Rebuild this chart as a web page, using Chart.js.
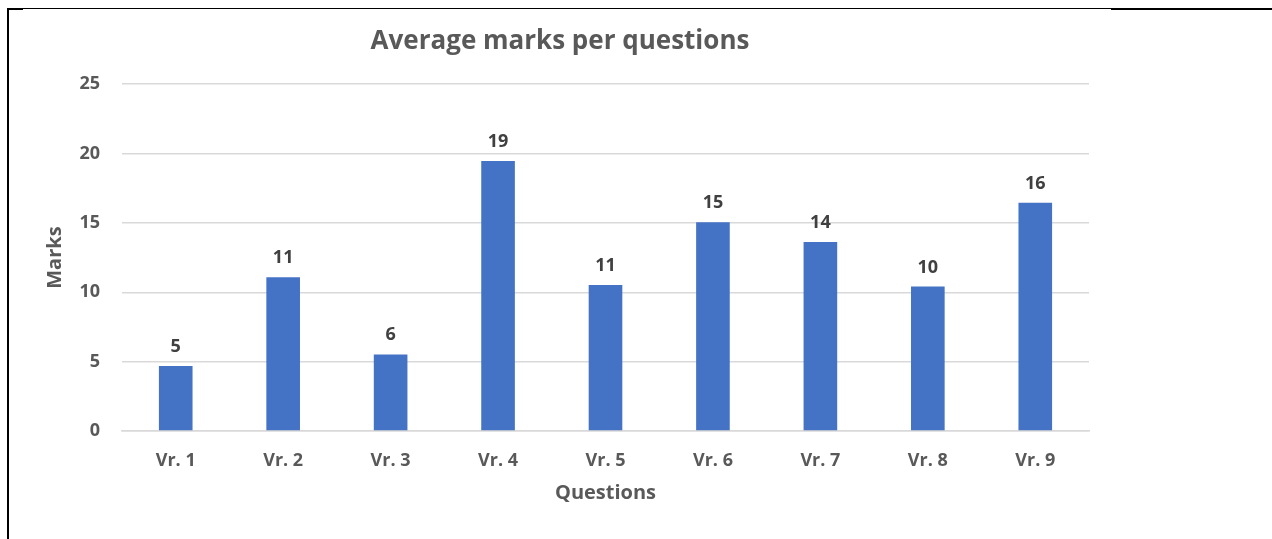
<!DOCTYPE html>
<html>
<head>
<meta charset="utf-8">
<script src="https://cdn.jsdelivr.net/npm/chart.js@4/dist/chart.umd.min.js"></script>
<style>
  body { margin: 0; background: #fff; width: 1272px; height: 539px; overflow: hidden; position: relative; }
  #frame { position: absolute; left: 7px; top: 8px; width: 1104px; height: 540px; border-left: 2px solid #000; border-top: 1px solid #000; }
  #corner { position: absolute; left: 7px; top: 8px; width: 16px; height: 2px; background: #000; }
  #outside { position: absolute; left: 1111px; top: 8px; width: 161px; height: 2px; background: #000; }
  #wrap { position: absolute; left: 9px; top: 10px; width: 1102px; height: 529px; }
</style>
</head>
<body>
<div id="frame"></div>
<div id="corner"></div>
<div id="outside"></div>
<div id="wrap"><canvas id="grafico"></canvas></div>
<script>
// dados do grafico
const questoes = ["Vr. 1", "Vr. 2", "Vr. 3", "Vr. 4", "Vr. 5", "Vr. 6", "Vr. 7", "Vr. 8", "Vr. 9"];
const mediaNotas = [4.69, 11.08, 5.52, 19.47, 10.53, 15.05, 13.63, 10.41, 16.46];
const ticksY = [0, 5, 10, 15, 20, 25];

const fonte = "'Open Sans', Lato, sans-serif";
const cinza = "#595959";

// rotulos em cima das barras (valor arredondado)
const rotulosBarras = {
  id: "rotulosBarras",
  afterDatasetsDraw(chart) {
    const ctx = chart.ctx;
    const meta = chart.getDatasetMeta(0);
    ctx.save();
    ctx.font = "bold 18px " + fonte;
    ctx.fillStyle = "#404040";
    ctx.textAlign = "center";
    ctx.textBaseline = "alphabetic";
    for (let i = 0; i < meta.data.length; i++) {
      const barra = meta.data[i];
      ctx.fillText(mediaNotas[i].toFixed(0), barra.x, barra.y - 14);
    }
    ctx.restore();
  },
};

new Chart(document.getElementById("grafico"), {
  type: "bar",
  data: {
    labels: questoes,
    datasets: [
      {
        label: "Marks",
        data: mediaNotas,
        backgroundColor: "#4472C4",
        borderWidth: 0,
        barPercentage: 0.313,
        categoryPercentage: 1,
      },
    ],
  },
  options: {
    responsive: true,
    maintainAspectRatio: false,
    animation: false,
    layout: { padding: 0 },
    plugins: {
      legend: { display: false },
      tooltip: { enabled: false },
      title: {
        display: true,
        text: "Average marks per questions",
        color: cinza,
        font: { family: fonte, size: 26, weight: "bold", lineHeight: 1.2 },
        padding: { top: 16, bottom: 27 },
      },
    },
    scales: {
      x: {
        grid: { display: false, drawTicks: false },
        border: { display: true, color: "#d9d9d9", width: 1.5 },
        ticks: {
          color: cinza,
          padding: 19,
          font: { family: fonte, size: 18, weight: "bold" },
        },
        title: {
          display: true,
          text: "Questions",
          color: cinza,
          font: { family: fonte, size: 20, weight: "bold", lineHeight: 1.2 },
          padding: { top: 0, bottom: 34 },
        },
        afterFit(scale) {
          scale.height = 108;
          scale.paddingRight = 22;
        },
      },
      y: {
        min: 0,
        max: 25,
        afterBuildTicks(scale) {
          scale.ticks = ticksY.map((v) => ({ value: v }));
        },
        grid: { color: "#d9d9d9", lineWidth: 1.5, drawTicks: false },
        border: { display: false },
        ticks: {
          color: cinza,
          padding: 22,
          font: { family: fonte, size: 18, weight: "bold" },
        },
        title: {
          display: true,
          text: "Marks",
          color: cinza,
          font: { family: fonte, size: 20, weight: "bold", lineHeight: 1.2 },
          padding: { top: 34, bottom: 0 },
        },
        afterFit(scale) {
          scale.width = 113;
        },
      },
    },
  },
  plugins: [rotulosBarras],
});
</script>
</body>
</html>
